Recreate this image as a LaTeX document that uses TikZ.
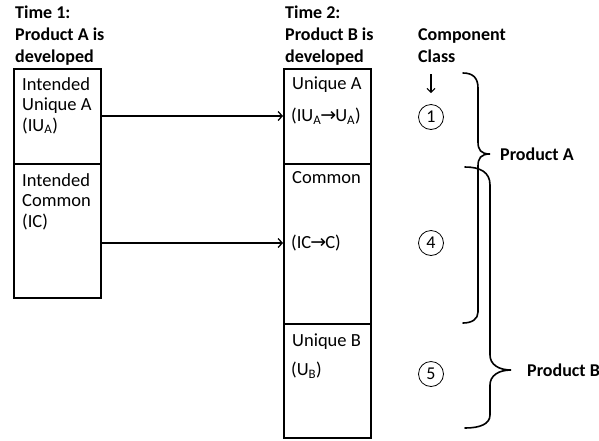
\documentclass[tikz,border=0pt]{standalone}
\usepackage{fontspec}
\setmainfont{Carlito}
\newfontfamily\arrowfont{DejaVu Sans}
\newcommand{\tto}{{\arrowfont\fontsize{19}{19}\selectfont\kern-1pt →\kern-1pt}}
\usetikzlibrary{arrows.meta}
\begin{document}
\begin{tikzpicture}[x=1pt,y=-1pt,
  box/.style={draw, line width=1.6pt, anchor=north west, inner sep=0pt, minimum width=87pt},
  hdr/.style={anchor=base west, inner sep=0pt, font=\fontsize{18}{22}\selectfont\bfseries, align=left},
  lbl/.style={anchor=base west, inner sep=0pt, font=\fontsize{18.5}{20.5}\selectfont, align=left},
  sub/.style={anchor=west, inner sep=0pt, font=\fontsize{18.5}{20}\selectfont},
  flow/.style={line width=1.3pt, -{Straight Barb[length=4pt,width=9pt]}},
  cls/.style={circle, draw, line width=0.8pt, inner sep=0pt, minimum size=25pt, font=\fontsize{18}{20}\selectfont},
  brace/.style={line width=1.6pt, line cap=round}
]
\useasboundingbox (0,0) rectangle (599,440);

% column headings (anchored on the baseline of the last line)
\node[hdr] (h1) at (15,62) {Time 1:\\Product A is\\developed};
\node[hdr] (h2) at (285,62) {Time 2:\\Product B is\\developed};
\node[hdr] (cc) at (418,62) {Component\\Class};

% component stacks
\node[box, minimum height=95pt]  (ia) at (13,68)  {};
\node[box, minimum height=134pt] (ic) at (13,163) {};
\node[box, minimum height=95pt]  (ua) at (283,68) {};
\node[box, minimum height=160pt] (cm) at (283,163) {};
\node[box, minimum height=114pt] (ub) at (283,323) {};

% text inside the stacks
\node[lbl] (tia) at (22,131) {Intended\\Unique A\\(IU\textsubscript{A})};
\node[lbl] (tic) at (22,227) {Intended\\Common\\(IC)};
\node[lbl] (tua) at (292,89) {Unique A};
\node[sub] (sua) at (291,116) {(IU\textsubscript{A}\tto U\textsubscript{A})};
\node[lbl] (tcm) at (292,183) {Common};
\node[sub] (scm) at (291,243) {(IC\tto C)};
\node[lbl] (tub) at (292,346) {Unique B};
\node[sub] (sub) at (291,370) {(U\textsubscript{B})};

% evolution of the intended classes
\draw[flow] (ia.east |- sua) -- (ua.west |- sua);
\draw[flow] (ic.east |- scm) -- (cm.west |- scm);

% component classes
\node[cls] (c1) at (431,117) {1};
\node[cls] (c4) at (431,243) {4};
\node[cls] (c5) at (431,374) {5};
\coordinate (dtop) at (431,74);
\draw[line width=1.1pt, -{Straight Barb[length=4pt,width=8pt]}, shorten >=11pt] (dtop) -- (c1.north);

% product braces
\draw[brace] (463,73) .. controls (473,73) and (478,78) .. (478,88) -- (478,142)
  .. controls (478,150) and (481,154) .. (490,154) coordinate (tipA)
  .. controls (481,154) and (478,158) .. (478,166) -- (478,312)
  .. controls (478,319) and (472,323) .. (463,323);
\draw[brace] (465,167) .. controls (480,167) and (490,172) .. (490,185) -- (490,355)
  .. controls (490,364) and (498,370) .. (511,370) coordinate (tipB)
  .. controls (498,370) and (490,376) .. (490,385) -- (490,415)
  .. controls (490,424) and (480,428) .. (465,428);
\node[hdr, anchor=west] (pa) at ([xshift=10pt]tipA) {Product A};
\node[hdr, anchor=west] (pb) at ([xshift=16pt]tipB) {Product B};
\end{tikzpicture}
\end{document}
